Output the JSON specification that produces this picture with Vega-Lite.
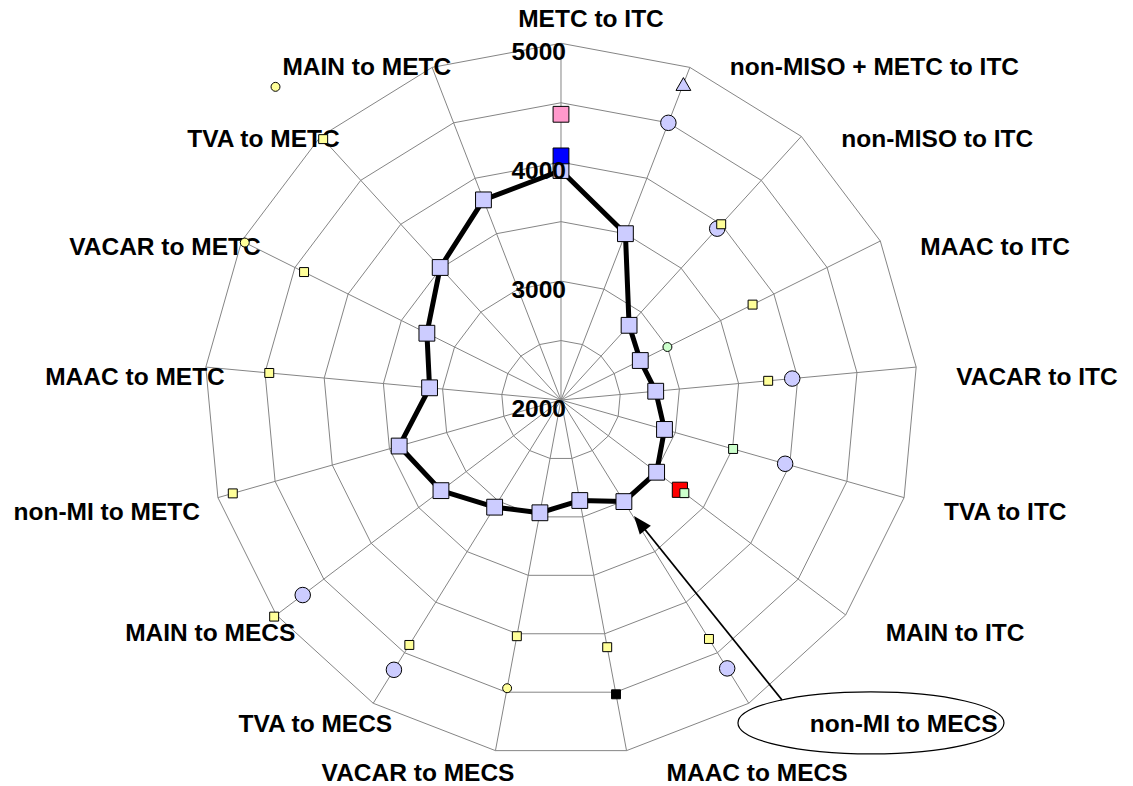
{
  "$schema": "https://vega.github.io/schema/vega-lite/v6.json",
  "width": 1133,
  "height": 786,
  "autosize": {"type": "none"},
  "padding": 0,
  "background": "white",
  "config": {"view": {"stroke": null}},
  "datasets": {
    "cats": [
      {"idx": 0, "label": "METC to ITC"},
      {"idx": 1, "label": "non-MISO + METC to ITC"},
      {"idx": 2, "label": "non-MISO to ITC"},
      {"idx": 3, "label": "MAAC to ITC"},
      {"idx": 4, "label": "VACAR to ITC"},
      {"idx": 5, "label": "TVA to ITC"},
      {"idx": 6, "label": "MAIN to ITC"},
      {"idx": 7, "label": "non-MI to MECS"},
      {"idx": 8, "label": "MAAC to MECS"},
      {"idx": 9, "label": "VACAR to MECS"},
      {"idx": 10, "label": "TVA to MECS"},
      {"idx": 11, "label": "MAIN to MECS"},
      {"idx": 12, "label": "non-MI to METC"},
      {"idx": 13, "label": "MAAC to METC"},
      {"idx": 14, "label": "VACAR to METC"},
      {"idx": 15, "label": "TVA to METC"},
      {"idx": 16, "label": "MAIN to METC"}
    ],
    "rings": [
      {"ring": 2500, "idxs": [0,1,2,3,4,5,6,7,8,9,10,11,12,13,14,15,16]},
      {"ring": 3000, "idxs": [0,1,2,3,4,5,6,7,8,9,10,11,12,13,14,15,16]},
      {"ring": 3500, "idxs": [0,1,2,3,4,5,6,7,8,9,10,11,12,13,14,15,16]},
      {"ring": 4000, "idxs": [0,1,2,3,4,5,6,7,8,9,10,11,12,13,14,15,16]},
      {"ring": 4500, "idxs": [0,1,2,3,4,5,6,7,8,9,10,11,12,13,14,15,16]},
      {"ring": 5000, "idxs": [0,1,2,3,4,5,6,7,8,9,10,11,12,13,14,15,16]}
    ],
    "ticks": [{"v": 2000}, {"v": 3000}, {"v": 4000}, {"v": 5000}],
    "pts": [
      {"series": "main", "idx": 0, "value": 3930},
      {"series": "main", "idx": 1, "value": 3500},
      {"series": "main", "idx": 2, "value": 2850},
      {"series": "main", "idx": 3, "value": 2745},
      {"series": "main", "idx": 4, "value": 2800},
      {"series": "main", "idx": 5, "value": 2905},
      {"series": "main", "idx": 6, "value": 3008},
      {"series": "main", "idx": 7, "value": 3005},
      {"series": "main", "idx": 8, "value": 2860},
      {"series": "main", "idx": 9, "value": 2965},
      {"series": "main", "idx": 10, "value": 3060},
      {"series": "main", "idx": 11, "value": 3265},
      {"series": "main", "idx": 12, "value": 3415},
      {"series": "main", "idx": 13, "value": 3110},
      {"series": "main", "idx": 14, "value": 3260},
      {"series": "main", "idx": 15, "value": 3508},
      {"series": "main", "idx": 16, "value": 3805},
      {"series": "lc", "idx": 1, "value": 4500},
      {"series": "lc", "idx": 2, "value": 3950},
      {"series": "lc", "idx": 4, "value": 3953},
      {"series": "lc", "idx": 5, "value": 3960},
      {"series": "lc", "idx": 7, "value": 4655},
      {"series": "lc", "idx": 10, "value": 4669},
      {"series": "lc", "idx": 11, "value": 4722},
      {"series": "tri", "idx": 1, "value": 4850},
      {"series": "pink", "idx": 0, "value": 4403},
      {"series": "blue", "idx": 0, "value": 4053},
      {"series": "red", "idx": 6, "value": 3253},
      {"series": "gsq", "idx": 5, "value": 3505},
      {"series": "gsq", "idx": 6, "value": 3300},
      {"series": "gc", "idx": 3, "value": 3000},
      {"series": "ysq", "idx": 2, "value": 4000},
      {"series": "ysq", "idx": 3, "value": 3800},
      {"series": "ysq", "idx": 4, "value": 3750},
      {"series": "ysq", "idx": 7, "value": 4364},
      {"series": "ysq", "idx": 8, "value": 4115},
      {"series": "ysq", "idx": 9, "value": 4021},
      {"series": "ysq", "idx": 10, "value": 4423},
      {"series": "ysq", "idx": 11, "value": 5023},
      {"series": "ysq", "idx": 12, "value": 4870},
      {"series": "ysq", "idx": 13, "value": 4464},
      {"series": "ysq", "idx": 14, "value": 4414},
      {"series": "ysq", "idx": 15, "value": 4969},
      {"series": "blk", "idx": 8, "value": 4518},
      {"series": "yc", "idx": 9, "value": 4466},
      {"series": "yc", "idx": 14, "value": 4971},
      {"series": "yc", "idx": 15, "value": 5564}
    ]
  },
  "layer": [
    {
      "data": {"name": "rings"},
      "transform": [
        {"flatten": ["idxs"], "as": ["idx"]},
        {"calculate": "datum.idx*2*PI/17", "as": "th"},
        {"calculate": "(datum.ring-2000)*sin(datum.th)", "as": "x"},
        {"calculate": "(datum.ring-2000)*cos(datum.th)", "as": "y"}
      ],
      "mark": {"type": "line", "interpolate": "linear-closed", "color": "#858585", "strokeWidth": 1},
      "encoding": {
        "x": {"field": "x", "type": "quantitative", "scale": {"domain": [-4718.2, 4810.8], "nice": false, "zero": false}, "axis": null},
        "y": {"field": "y", "type": "quantitative", "scale": {"domain": [-3246.4, 3364.2], "nice": false, "zero": false}, "axis": null},
        "detail": {"field": "ring", "type": "nominal"},
        "order": {"field": "idx", "type": "quantitative"}
      }
    },
    {
      "data": {"name": "cats"},
      "transform": [
        {"calculate": "datum.idx*2*PI/17", "as": "th"},
        {"calculate": "3000*sin(datum.th)", "as": "x"},
        {"calculate": "3000*cos(datum.th)", "as": "y"},
        {"calculate": "0", "as": "cx"},
        {"calculate": "0", "as": "cy"}
      ],
      "mark": {"type": "rule", "color": "#858585", "strokeWidth": 1},
      "encoding": {
        "x": {"field": "cx", "type": "quantitative", "scale": {"domain": [-4718.2, 4810.8], "nice": false, "zero": false}, "axis": null},
        "y": {"field": "cy", "type": "quantitative", "scale": {"domain": [-3246.4, 3364.2], "nice": false, "zero": false}, "axis": null},
        "x2": {"field": "x"},
        "y2": {"field": "y"}
      }
    },
    {
      "data": {"values": [{"note": "non-MI to MECS"}]},
      "mark": {"type": "point", "shape": "M-1,0 C-1,-0.1287 -0.5523,-0.233 0,-0.233 C0.5523,-0.233 1,-0.1287 1,0 C1,0.1287 0.5523,0.233 0,0.233 C-0.5523,0.233 -1,0.1287 -1,0 Z", "size": 70756, "filled": true, "fill": "white", "stroke": "black", "strokeWidth": 1.2, "opacity": 1},
      "encoding": {
        "x": {"datum": 2607, "type": "quantitative", "scale": {"domain": [-4718.2, 4810.8], "nice": false, "zero": false}, "axis": null},
        "y": {"datum": -2716, "type": "quantitative", "scale": {"domain": [-3246.4, 3364.2], "nice": false, "zero": false}, "axis": null}
      }
    },
    {
      "data": {"values": [{"note": "arrow"}]},
      "transform": [
        {"calculate": "1859", "as": "ax"},
        {"calculate": "-2523", "as": "ay"},
        {"calculate": "650", "as": "bx"},
        {"calculate": "-1020", "as": "by"}
      ],
      "mark": {"type": "rule", "color": "black", "strokeWidth": 1.8},
      "encoding": {
        "x": {"field": "ax", "type": "quantitative", "scale": {"domain": [-4718.2, 4810.8], "nice": false, "zero": false}, "axis": null},
        "y": {"field": "ay", "type": "quantitative", "scale": {"domain": [-3246.4, 3364.2], "nice": false, "zero": false}, "axis": null},
        "x2": {"field": "bx"},
        "y2": {"field": "by"}
      }
    },
    {
      "data": {"values": [{"note": "arrowhead"}]},
      "mark": {"type": "point", "shape": "M0,0 L0.55,1.4 L-0.55,1.4 Z", "size": 666, "angle": 321.2, "filled": true, "color": "black", "opacity": 1},
      "encoding": {
        "x": {"datum": 614, "type": "quantitative", "scale": {"domain": [-4718.2, 4810.8], "nice": false, "zero": false}, "axis": null},
        "y": {"datum": -975.6, "type": "quantitative", "scale": {"domain": [-3246.4, 3364.2], "nice": false, "zero": false}, "axis": null}
      }
    },
    {
      "data": {"name": "cats"},
      "transform": [
        {"filter": "datum.idx == 0"},
        {"calculate": "datum.idx*2*PI/17", "as": "th"},
        {"calculate": "3000*sin(datum.th)+30*8.41", "as": "x"},
        {"calculate": "3000*cos(datum.th)+23*8.41", "as": "y"}
      ],
      "mark": {"type": "text", "align": "center", "baseline": "middle", "font": "Liberation Sans", "fontWeight": "bold", "fontSize": 24.5, "color": "black"},
      "encoding": {
        "x": {"field": "x", "type": "quantitative", "scale": {"domain": [-4718.2, 4810.8], "nice": false, "zero": false}, "axis": null},
        "y": {"field": "y", "type": "quantitative", "scale": {"domain": [-3246.4, 3364.2], "nice": false, "zero": false}, "axis": null},
        "text": {"field": "label", "type": "nominal"}
      }
    },
    {
      "data": {"name": "cats"},
      "transform": [
        {"filter": "datum.idx >= 1 && datum.idx <= 8"},
        {"calculate": "datum.idx*2*PI/17", "as": "th"},
        {"calculate": "3000*sin(datum.th)+(datum.idx == 7 ? 61 : 40)*8.41", "as": "x"},
        {"calculate": "3000*cos(datum.th)-(12-12*cos(datum.th))*8.41", "as": "y"}
      ],
      "mark": {"type": "text", "align": "left", "baseline": "middle", "font": "Liberation Sans", "fontWeight": "bold", "fontSize": 24.5, "color": "black"},
      "encoding": {
        "x": {"field": "x", "type": "quantitative", "scale": {"domain": [-4718.2, 4810.8], "nice": false, "zero": false}, "axis": null},
        "y": {"field": "y", "type": "quantitative", "scale": {"domain": [-3246.4, 3364.2], "nice": false, "zero": false}, "axis": null},
        "text": {"field": "label", "type": "nominal"}
      }
    },
    {
      "data": {"name": "cats"},
      "transform": [
        {"filter": "datum.idx >= 9"},
        {"calculate": "datum.idx*2*PI/17", "as": "th"},
        {"calculate": "3000*sin(datum.th)+(datum.idx == 12 ? -18 : 19)*8.41", "as": "x"},
        {"calculate": "3000*cos(datum.th)-(12-12*cos(datum.th))*8.41", "as": "y"}
      ],
      "mark": {"type": "text", "align": "right", "baseline": "middle", "font": "Liberation Sans", "fontWeight": "bold", "fontSize": 24.5, "color": "black"},
      "encoding": {
        "x": {"field": "x", "type": "quantitative", "scale": {"domain": [-4718.2, 4810.8], "nice": false, "zero": false}, "axis": null},
        "y": {"field": "y", "type": "quantitative", "scale": {"domain": [-3246.4, 3364.2], "nice": false, "zero": false}, "axis": null},
        "text": {"field": "label", "type": "nominal"}
      }
    },
    {
      "data": {"name": "pts"},
      "transform": [
        {"filter": "datum.series == 'main'"},
        {"calculate": "datum.idx*2*PI/17", "as": "th"},
        {"calculate": "(datum.value-2000)*sin(datum.th)", "as": "x"},
        {"calculate": "(datum.value-2000)*cos(datum.th)", "as": "y"}
      ],
      "mark": {"type": "line", "interpolate": "linear-closed", "color": "black", "strokeWidth": 5, "strokeJoin": "round"},
      "encoding": {
        "x": {"field": "x", "type": "quantitative", "scale": {"domain": [-4718.2, 4810.8], "nice": false, "zero": false}, "axis": null},
        "y": {"field": "y", "type": "quantitative", "scale": {"domain": [-3246.4, 3364.2], "nice": false, "zero": false}, "axis": null},
        "order": {"field": "idx", "type": "quantitative"}
      }
    },
    {
      "data": {"name": "pts"},
      "transform": [
        {"filter": "datum.series == 'main'"},
        {"calculate": "datum.idx*2*PI/17", "as": "th"},
        {"calculate": "(datum.value-2000)*sin(datum.th)", "as": "x"},
        {"calculate": "(datum.value-2000)*cos(datum.th)", "as": "y"}
      ],
      "mark": {"type": "point", "shape": "square", "size": 250, "filled": true, "fill": "#CCCCFF", "stroke": "black", "strokeWidth": 1, "opacity": 1},
      "encoding": {
        "x": {"field": "x", "type": "quantitative", "scale": {"domain": [-4718.2, 4810.8], "nice": false, "zero": false}, "axis": null},
        "y": {"field": "y", "type": "quantitative", "scale": {"domain": [-3246.4, 3364.2], "nice": false, "zero": false}, "axis": null}
      }
    },
    {
      "data": {"name": "pts"},
      "transform": [
        {"filter": "datum.series != 'main'"},
        {"calculate": "datum.idx*2*PI/17", "as": "th"},
        {"calculate": "(datum.value-2000)*sin(datum.th)", "as": "x"},
        {"calculate": "(datum.value-2000)*cos(datum.th)", "as": "y"}
      ],
      "mark": {"type": "point", "filled": true, "stroke": "black", "strokeWidth": 1, "opacity": 1},
      "encoding": {
        "x": {"field": "x", "type": "quantitative", "scale": {"domain": [-4718.2, 4810.8], "nice": false, "zero": false}, "axis": null},
        "y": {"field": "y", "type": "quantitative", "scale": {"domain": [-3246.4, 3364.2], "nice": false, "zero": false}, "axis": null},
        "shape": {"field": "series", "type": "nominal", "legend": null, "scale": {"type": "ordinal", "domain": ["lc","tri","pink","blue","red","gsq","gc","ysq","blk","yc"], "range": ["circle","triangle-up","square","square","square","square","circle","square","square","circle"]}},
        "fill": {"field": "series", "type": "nominal", "legend": null, "scale": {"type": "ordinal", "domain": ["lc","tri","pink","blue","red","gsq","gc","ysq","blk","yc"], "range": ["#CCCCFF","#CCCCFF","#FF99CC","#0000FF","#FF0000","#CCFFCC","#CCFFCC","#FFFF99","#000000","#FFFF99"]}},
        "size": {"field": "series", "type": "nominal", "legend": null, "scale": {"type": "ordinal", "domain": ["lc","tri","pink","blue","red","gsq","gc","ysq","blk","yc"], "range": [240, 220, 250, 250, 230, 80, 80, 80, 80, 80]}}
      }
    },
    {
      "data": {"name": "ticks"},
      "transform": [
        {"calculate": "datum.v-2000", "as": "y"},
        {"calculate": "0", "as": "x"}
      ],
      "mark": {"type": "text", "align": "right", "baseline": "middle", "dx": 5, "dy": 10, "font": "Liberation Sans", "fontWeight": "bold", "fontSize": 24.5, "color": "black"},
      "encoding": {
        "x": {"field": "x", "type": "quantitative", "scale": {"domain": [-4718.2, 4810.8], "nice": false, "zero": false}, "axis": null},
        "y": {"field": "y", "type": "quantitative", "scale": {"domain": [-3246.4, 3364.2], "nice": false, "zero": false}, "axis": null},
        "text": {"field": "v", "type": "quantitative", "format": "d"}
      }
    }
  ]
}
